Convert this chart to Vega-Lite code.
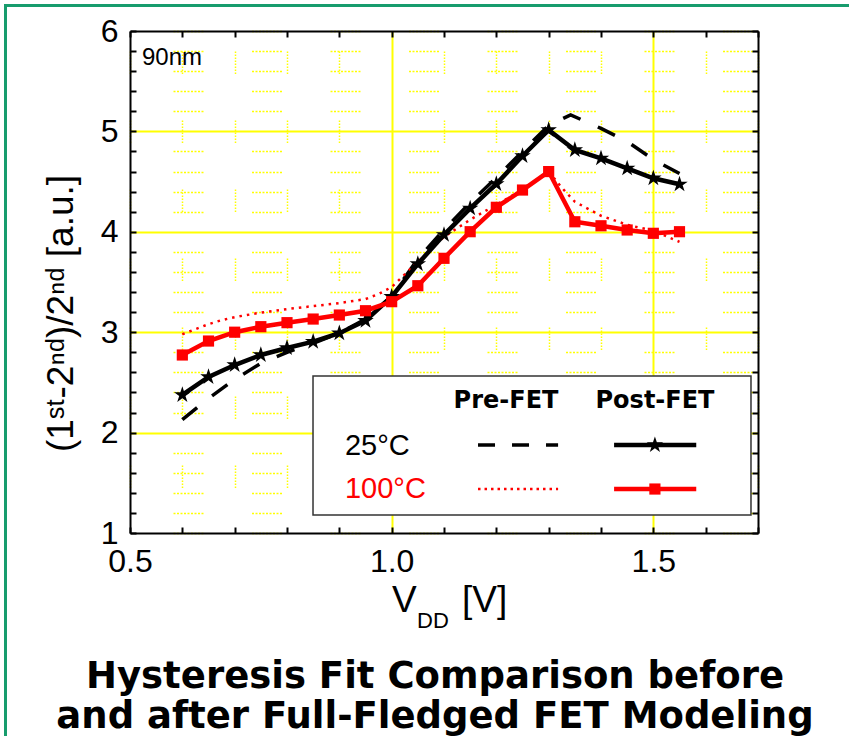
{
  "$schema": "https://vega.github.io/schema/vega-lite/v6.json",
  "width": 628,
  "height": 502,
  "autosize": "none",
  "padding": {"left": 130, "top": 31, "right": 91, "bottom": 203},
  "background": "white",
  "config": {"view": {"stroke": null}, "font": "Liberation Sans"},
  "title": {
    "text": ["Hysteresis Fit Comparison before", "and after Full-Fledged FET Modeling"],
    "orient": "bottom",
    "anchor": "middle",
    "font": "DejaVu Sans",
    "fontSize": 37,
    "fontWeight": "bold",
    "color": "black",
    "lineHeight": 40,
    "offset": -81,
    "dx": -9
  },
  "datasets": {
    "pre": [
      {"V": 0.6, "r": 2.13, "T": "25"}, {"V": 0.65, "r": 2.34, "T": "25"}, {"V": 0.7, "r": 2.53, "T": "25"},
      {"V": 0.75, "r": 2.69, "T": "25"}, {"V": 0.8, "r": 2.8, "T": "25"}, {"V": 0.85, "r": 2.89, "T": "25"},
      {"V": 0.9, "r": 2.99, "T": "25"}, {"V": 0.95, "r": 3.13, "T": "25"}, {"V": 1.0, "r": 3.36, "T": "25"},
      {"V": 1.05, "r": 3.73, "T": "25"}, {"V": 1.1, "r": 4.02, "T": "25"}, {"V": 1.15, "r": 4.29, "T": "25"},
      {"V": 1.2, "r": 4.54, "T": "25"}, {"V": 1.25, "r": 4.8, "T": "25"}, {"V": 1.3, "r": 5.06, "T": "25"},
      {"V": 1.342, "r": 5.165, "T": "25"}, {"V": 1.4, "r": 5.03, "T": "25"}, {"V": 1.45, "r": 4.9, "T": "25"},
      {"V": 1.5, "r": 4.72, "T": "25"}, {"V": 1.55, "r": 4.58, "T": "25"},
      {"V": 0.6, "r": 2.98, "T": "100"}, {"V": 0.625, "r": 3.03, "T": "100"}, {"V": 0.65, "r": 3.08, "T": "100"},
      {"V": 0.675, "r": 3.12, "T": "100"}, {"V": 0.7, "r": 3.15, "T": "100"}, {"V": 0.75, "r": 3.195, "T": "100"},
      {"V": 0.8, "r": 3.23, "T": "100"}, {"V": 0.85, "r": 3.26, "T": "100"}, {"V": 0.9, "r": 3.29, "T": "100"},
      {"V": 0.95, "r": 3.33, "T": "100"}, {"V": 0.975, "r": 3.38, "T": "100"}, {"V": 1.0, "r": 3.45, "T": "100"},
      {"V": 1.05, "r": 3.7, "T": "100"}, {"V": 1.1, "r": 3.95, "T": "100"}, {"V": 1.15, "r": 4.12, "T": "100"},
      {"V": 1.2, "r": 4.27, "T": "100"}, {"V": 1.25, "r": 4.42, "T": "100"}, {"V": 1.3, "r": 4.6, "T": "100"},
      {"V": 1.325, "r": 4.44, "T": "100"}, {"V": 1.35, "r": 4.3, "T": "100"}, {"V": 1.4, "r": 4.16, "T": "100"},
      {"V": 1.45, "r": 4.07, "T": "100"}, {"V": 1.5, "r": 4.01, "T": "100"}, {"V": 1.55, "r": 3.9, "T": "100"}
    ],
    "post": [
      {"V": 0.6, "r": 2.375, "T": "25"}, {"V": 0.65, "r": 2.554, "T": "25"}, {"V": 0.7, "r": 2.673, "T": "25"},
      {"V": 0.75, "r": 2.773, "T": "25"}, {"V": 0.8, "r": 2.843, "T": "25"}, {"V": 0.85, "r": 2.906, "T": "25"},
      {"V": 0.9, "r": 2.99, "T": "25"}, {"V": 0.95, "r": 3.115, "T": "25"}, {"V": 1.0, "r": 3.354, "T": "25"},
      {"V": 1.05, "r": 3.68, "T": "25"}, {"V": 1.1, "r": 3.97, "T": "25"}, {"V": 1.15, "r": 4.234, "T": "25"},
      {"V": 1.2, "r": 4.476, "T": "25"}, {"V": 1.25, "r": 4.755, "T": "25"}, {"V": 1.3, "r": 5.014, "T": "25"},
      {"V": 1.35, "r": 4.815, "T": "25"}, {"V": 1.4, "r": 4.732, "T": "25"}, {"V": 1.45, "r": 4.632, "T": "25"},
      {"V": 1.5, "r": 4.533, "T": "25"}, {"V": 1.55, "r": 4.473, "T": "25"},
      {"V": 0.6, "r": 2.773, "T": "100"}, {"V": 0.65, "r": 2.912, "T": "100"}, {"V": 0.7, "r": 3.0, "T": "100"},
      {"V": 0.75, "r": 3.055, "T": "100"}, {"V": 0.8, "r": 3.095, "T": "100"}, {"V": 0.85, "r": 3.131, "T": "100"},
      {"V": 0.9, "r": 3.171, "T": "100"}, {"V": 0.95, "r": 3.214, "T": "100"}, {"V": 1.0, "r": 3.304, "T": "100"},
      {"V": 1.05, "r": 3.463, "T": "100"}, {"V": 1.1, "r": 3.736, "T": "100"}, {"V": 1.15, "r": 4.001, "T": "100"},
      {"V": 1.2, "r": 4.244, "T": "100"}, {"V": 1.25, "r": 4.416, "T": "100"}, {"V": 1.3, "r": 4.6, "T": "100"},
      {"V": 1.35, "r": 4.1, "T": "100"}, {"V": 1.4, "r": 4.06, "T": "100"}, {"V": 1.45, "r": 4.018, "T": "100"},
      {"V": 1.5, "r": 3.985, "T": "100"}, {"V": 1.55, "r": 4.001, "T": "100"}
    ]
  },
  "resolve": {"axis": {"x": "independent", "y": "independent"}},
  "layer": [
    {
      "data": {"name": "pre"},
      "transform": [{"filter": "datum.T == '25'"}],
      "mark": {"type": "line", "color": "black", "strokeWidth": 3.5, "strokeDash": [19, 19]},
      "encoding": {
        "x": {
          "field": "V", "type": "quantitative",
          "scale": {"domain": [0.5, 1.7], "nice": false, "zero": false},
          "axis": {
            "orient": "bottom",
            "values": [0.5, 0.6, 0.7, 0.8, 0.9, 1.0, 1.1, 1.2, 1.3, 1.4, 1.5, 1.6, 1.7],
            "labelExpr": "(datum.value == 0.5 || datum.value == 1 || datum.value == 1.5) ? format(datum.value, '.1f') : ''",
            "labelOverlap": false, "labelFlush": false,
            "labelFont": "Liberation Sans", "labelFontSize": 32, "labelColor": "black", "labelPadding": 19,
            "tickSize": -6, "tickWidth": 2, "tickColor": "black",
            "domainColor": "black", "domainWidth": 2,
            "title": null,
            "grid": true, "gridColor": "#ffff00", "gridOpacity": 1,
            "gridWidth": {"condition": {"test": "datum.value == 1 || datum.value == 1.5", "value": 2}, "value": 1.5},
            "gridDash": {"condition": {"test": "datum.value == 1 || datum.value == 1.5", "value": []}, "value": [1.5, 1.5, 1.5, 1.5, 1.5, 1.5, 1.5, 1.5, 1.5, 1.5, 1.5, 1.5, 1.5, 1.5, 1.5, 46.5]},
            "gridDashOffset": 49
          }
        },
        "y": {
          "field": "r", "type": "quantitative",
          "scale": {"domain": [1, 6], "nice": false, "zero": false},
          "axis": {
            "orient": "left",
            "values": [1, 1.2, 1.4, 1.6, 1.8, 2, 2.2, 2.4, 2.6, 2.8, 3, 3.2, 3.4, 3.6, 3.8, 4, 4.2, 4.4, 4.6, 4.8, 5, 5.2, 5.4, 5.6, 5.8, 6],
            "labelExpr": "datum.value % 1 == 0 ? format(datum.value, 'd') : ''",
            "labelOverlap": false, "labelFlush": false,
            "labelFont": "Liberation Sans", "labelFontSize": 32, "labelColor": "black", "labelPadding": 18,
            "tickSize": -6, "tickWidth": 2, "tickColor": "black",
            "domainColor": "black", "domainWidth": 2,
            "title": "(1ˢᵗ-2ⁿᵈ)/2ⁿᵈ [a.u.]",
            "titleFont": "Liberation Sans", "titleFontSize": 37, "titleFontWeight": "normal", "titleColor": "black",
            "titlePadding": 20, "titleY": 282,
            "grid": true, "gridColor": "#ffff00", "gridOpacity": 1,
            "gridWidth": {"condition": {"test": "datum.value == 2 || datum.value == 3 || datum.value == 4 || datum.value == 5", "value": 2}, "value": 1.5},
            "gridDash": {"condition": {"test": "datum.value == 2 || datum.value == 3 || datum.value == 4 || datum.value == 5", "value": []}, "value": [2, 1.5, 2, 1.5, 2, 1.5, 2, 1.5, 2, 1.5, 2, 1.5, 2, 1.5, 2, 1.5, 2, 48.5]},
            "gridDashOffset": 35.5
          }
        }
      }
    },
    {
      "data": {"name": "pre"},
      "transform": [{"filter": "datum.T == '100'"}],
      "mark": {"type": "line", "color": "#ff0000", "strokeWidth": 2.5, "strokeDash": [2.5, 5]},
      "encoding": {
        "x": {
          "field": "V", "type": "quantitative",
          "scale": {"domain": [0.5, 1.7], "nice": false, "zero": false},
          "axis": {
            "orient": "top",
            "values": [0.5, 0.6, 0.7, 0.8, 0.9, 1.0, 1.1, 1.2, 1.3, 1.4, 1.5, 1.6, 1.7],
            "labels": false, "grid": false, "title": null,
            "tickSize": -6, "tickWidth": 2, "tickColor": "black",
            "domainColor": "black", "domainWidth": 2
          }
        },
        "y": {
          "field": "r", "type": "quantitative",
          "scale": {"domain": [1, 6], "nice": false, "zero": false},
          "axis": {
            "orient": "right",
            "values": [1, 1.2, 1.4, 1.6, 1.8, 2, 2.2, 2.4, 2.6, 2.8, 3, 3.2, 3.4, 3.6, 3.8, 4, 4.2, 4.4, 4.6, 4.8, 5, 5.2, 5.4, 5.6, 5.8, 6],
            "labels": false, "grid": false, "title": null,
            "tickSize": -6, "tickWidth": 2, "tickColor": "black",
            "domainColor": "black", "domainWidth": 2
          }
        }
      }
    },
    {
      "data": {"name": "post"},
      "mark": {"type": "line", "strokeWidth": 4.5},
      "encoding": {
        "x": {"field": "V", "type": "quantitative", "scale": {"domain": [0.5, 1.7], "nice": false, "zero": false}, "axis": null},
        "y": {"field": "r", "type": "quantitative", "scale": {"domain": [1, 6], "nice": false, "zero": false}, "axis": null},
        "detail": {"field": "T"},
        "color": {"field": "T", "type": "nominal", "scale": {"domain": ["25", "100"], "range": ["black", "#ff0000"]}, "legend": null}
      }
    },
    {
      "data": {"name": "post"},
      "transform": [{"filter": "datum.T == '25'"}],
      "mark": {"type": "point", "filled": true, "opacity": 1, "color": "black", "size": 300,
        "shape": "M0,-1L0.2245,-0.309L0.951,-0.309L0.363,0.118L0.588,0.809L0,0.382L-0.588,0.809L-0.363,0.118L-0.951,-0.309L-0.2245,-0.309Z"},
      "encoding": {
        "x": {"field": "V", "type": "quantitative", "scale": {"domain": [0.5, 1.7], "nice": false, "zero": false}, "axis": null},
        "y": {"field": "r", "type": "quantitative", "scale": {"domain": [1, 6], "nice": false, "zero": false}, "axis": null}
      }
    },
    {
      "data": {"name": "post"},
      "transform": [{"filter": "datum.T == '100'"}],
      "mark": {"type": "square", "opacity": 1, "color": "#ff0000", "size": 125},
      "encoding": {
        "x": {"field": "V", "type": "quantitative", "scale": {"domain": [0.5, 1.7], "nice": false, "zero": false}, "axis": null},
        "y": {"field": "r", "type": "quantitative", "scale": {"domain": [1, 6], "nice": false, "zero": false}, "axis": null}
      }
    },
    {
      "data": {"values": [{}]},
      "mark": {"type": "rect", "fill": "white", "stroke": "#333333", "strokeWidth": 1.5},
      "encoding": {
        "x": {"datum": 0.8497, "type": "quantitative", "scale": {"domain": [0.5, 1.7], "nice": false, "zero": false}, "axis": null},
        "x2": {"datum": 1.6866},
        "y": {"datum": 2.564, "type": "quantitative", "scale": {"domain": [1, 6], "nice": false, "zero": false}, "axis": null},
        "y2": {"datum": 1.179}
      }
    },
    {
      "data": {"values": [{}]},
      "mark": {"type": "text", "text": "Pre-FET", "font": "DejaVu Sans", "fontWeight": "bold", "fontSize": 24, "align": "center", "baseline": "middle", "color": "black"},
      "encoding": {
        "x": {"datum": 1.2185, "type": "quantitative", "scale": {"domain": [0.5, 1.7], "nice": false, "zero": false}, "axis": null},
        "y": {"datum": 2.315, "type": "quantitative", "scale": {"domain": [1, 6], "nice": false, "zero": false}, "axis": null}
      }
    },
    {
      "data": {"values": [{}]},
      "mark": {"type": "text", "text": "Post-FET", "font": "DejaVu Sans", "fontWeight": "bold", "fontSize": 24, "align": "center", "baseline": "middle", "color": "black"},
      "encoding": {
        "x": {"datum": 1.5032, "type": "quantitative", "scale": {"domain": [0.5, 1.7], "nice": false, "zero": false}, "axis": null},
        "y": {"datum": 2.315, "type": "quantitative", "scale": {"domain": [1, 6], "nice": false, "zero": false}, "axis": null}
      }
    },
    {
      "data": {"values": [{}]},
      "mark": {"type": "text", "text": "25°C", "font": "Liberation Sans", "fontSize": 29, "align": "left", "baseline": "middle", "color": "black"},
      "encoding": {
        "x": {"datum": 0.9108, "type": "quantitative", "scale": {"domain": [0.5, 1.7], "nice": false, "zero": false}, "axis": null},
        "y": {"datum": 1.867, "type": "quantitative", "scale": {"domain": [1, 6], "nice": false, "zero": false}, "axis": null}
      }
    },
    {
      "data": {"values": [{}]},
      "mark": {"type": "text", "text": "100°C", "font": "Liberation Sans", "fontSize": 29, "align": "left", "baseline": "middle", "color": "#ff0000"},
      "encoding": {
        "x": {"datum": 0.9108, "type": "quantitative", "scale": {"domain": [0.5, 1.7], "nice": false, "zero": false}, "axis": null},
        "y": {"datum": 1.438, "type": "quantitative", "scale": {"domain": [1, 6], "nice": false, "zero": false}, "axis": null}
      }
    },
    {
      "data": {"values": [{}]},
      "mark": {"type": "rule", "color": "black", "strokeWidth": 3.5, "strokeDash": [17, 17]},
      "encoding": {
        "x": {"datum": 1.165, "type": "quantitative", "scale": {"domain": [0.5, 1.7], "nice": false, "zero": false}, "axis": null},
        "x2": {"datum": 1.318},
        "y": {"datum": 1.876, "type": "quantitative", "scale": {"domain": [1, 6], "nice": false, "zero": false}, "axis": null}
      }
    },
    {
      "data": {"values": [{}]},
      "mark": {"type": "rule", "color": "black", "strokeWidth": 4.5},
      "encoding": {
        "x": {"datum": 1.425, "type": "quantitative", "scale": {"domain": [0.5, 1.7], "nice": false, "zero": false}, "axis": null},
        "x2": {"datum": 1.582},
        "y": {"datum": 1.876, "type": "quantitative", "scale": {"domain": [1, 6], "nice": false, "zero": false}, "axis": null}
      }
    },
    {
      "data": {"values": [{}]},
      "mark": {"type": "point", "filled": true, "opacity": 1, "color": "black", "size": 300,
        "shape": "M0,-1L0.2245,-0.309L0.951,-0.309L0.363,0.118L0.588,0.809L0,0.382L-0.588,0.809L-0.363,0.118L-0.951,-0.309L-0.2245,-0.309Z"},
      "encoding": {
        "x": {"datum": 1.503, "type": "quantitative", "scale": {"domain": [0.5, 1.7], "nice": false, "zero": false}, "axis": null},
        "y": {"datum": 1.876, "type": "quantitative", "scale": {"domain": [1, 6], "nice": false, "zero": false}, "axis": null}
      }
    },
    {
      "data": {"values": [{}]},
      "mark": {"type": "rule", "color": "#ff0000", "strokeWidth": 2.5, "strokeDash": [2.5, 4]},
      "encoding": {
        "x": {"datum": 1.165, "type": "quantitative", "scale": {"domain": [0.5, 1.7], "nice": false, "zero": false}, "axis": null},
        "x2": {"datum": 1.318},
        "y": {"datum": 1.438, "type": "quantitative", "scale": {"domain": [1, 6], "nice": false, "zero": false}, "axis": null}
      }
    },
    {
      "data": {"values": [{}]},
      "mark": {"type": "rule", "color": "#ff0000", "strokeWidth": 4.5},
      "encoding": {
        "x": {"datum": 1.425, "type": "quantitative", "scale": {"domain": [0.5, 1.7], "nice": false, "zero": false}, "axis": null},
        "x2": {"datum": 1.582},
        "y": {"datum": 1.438, "type": "quantitative", "scale": {"domain": [1, 6], "nice": false, "zero": false}, "axis": null}
      }
    },
    {
      "data": {"values": [{}]},
      "mark": {"type": "square", "opacity": 1, "color": "#ff0000", "size": 125},
      "encoding": {
        "x": {"datum": 1.503, "type": "quantitative", "scale": {"domain": [0.5, 1.7], "nice": false, "zero": false}, "axis": null},
        "y": {"datum": 1.438, "type": "quantitative", "scale": {"domain": [1, 6], "nice": false, "zero": false}, "axis": null}
      }
    },
    {
      "data": {"values": [{}]},
      "mark": {"type": "text", "text": "90nm", "font": "Liberation Sans", "fontSize": 24, "align": "left", "baseline": "middle", "color": "black"},
      "encoding": {
        "x": {"datum": 0.5229, "type": "quantitative", "scale": {"domain": [0.5, 1.7], "nice": false, "zero": false}, "axis": null},
        "y": {"datum": 5.73, "type": "quantitative", "scale": {"domain": [1, 6], "nice": false, "zero": false}, "axis": null}
      }
    },
    {
      "data": {"values": [{}]},
      "mark": {"type": "text", "text": "V", "font": "Liberation Sans", "fontSize": 37, "align": "left", "baseline": "alphabetic", "color": "black"},
      "encoding": {
        "x": {"datum": 1.0006, "type": "quantitative", "scale": {"domain": [0.5, 1.7], "nice": false, "zero": false}, "axis": null},
        "y": {"datum": 0.213, "type": "quantitative", "scale": {"domain": [1, 6], "nice": false, "zero": false}, "axis": null}
      }
    },
    {
      "data": {"values": [{}]},
      "mark": {"type": "text", "text": "DD", "font": "Liberation Sans", "fontSize": 22, "align": "left", "baseline": "alphabetic", "color": "black"},
      "encoding": {
        "x": {"datum": 1.0484, "type": "quantitative", "scale": {"domain": [0.5, 1.7], "nice": false, "zero": false}, "axis": null},
        "y": {"datum": 0.054, "type": "quantitative", "scale": {"domain": [1, 6], "nice": false, "zero": false}, "axis": null}
      }
    },
    {
      "data": {"values": [{}]},
      "mark": {"type": "text", "text": "[V]", "font": "Liberation Sans", "fontSize": 37, "align": "left", "baseline": "alphabetic", "color": "black"},
      "encoding": {
        "x": {"datum": 1.1344, "type": "quantitative", "scale": {"domain": [0.5, 1.7], "nice": false, "zero": false}, "axis": null},
        "y": {"datum": 0.213, "type": "quantitative", "scale": {"domain": [1, 6], "nice": false, "zero": false}, "axis": null}
      }
    },
    {
      "data": {"values": [{}]},
      "mark": {"type": "rect", "fillOpacity": 0, "stroke": "#179c6d", "strokeWidth": 3},
      "encoding": {
        "x": {"datum": 0.2621, "type": "quantitative", "scale": {"domain": [0.5, 1.7], "nice": false, "zero": false}, "axis": null},
        "x2": {"datum": 2.2},
        "y": {"datum": 6.254, "type": "quantitative", "scale": {"domain": [1, 6], "nice": false, "zero": false}, "axis": null},
        "y2": {"datum": -1.05}
      }
    }
  ]
}
